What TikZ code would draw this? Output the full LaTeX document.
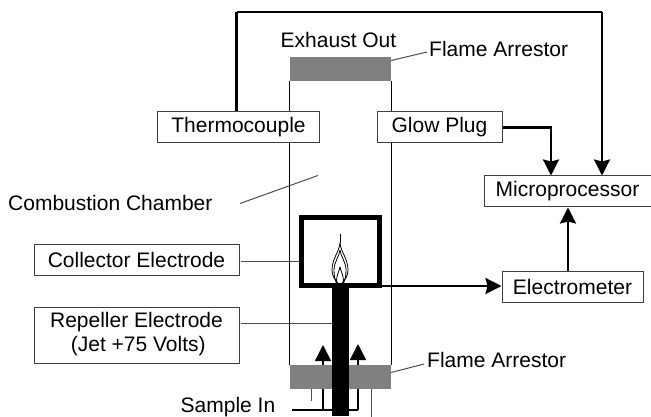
\documentclass[tikz,border=0pt]{standalone}
\usepackage{fontspec}
\setmainfont{Liberation Sans}
\usetikzlibrary{arrows.meta}

\begin{document}
\begin{tikzpicture}[x=1pt,y=-1pt]

    % Слои:
    \pgfdeclarelayer{background}
    \pgfsetlayers{background,main}

    % Стили:
    \tikzstyle{blok}=[draw=black!75, fill=white, line width=1pt, inner sep=0pt,
    text centered, font=\fontsize{21}{24}\selectfont]
    \tikzstyle{texto}=[inner sep=0pt, font=\fontsize{21}{24}\selectfont]
    \tikzstyle{arrestor}=[fill=black!50, inner sep=0pt, minimum width=101pt, minimum height=24pt]
    \tikzstyle{wall}=[draw, line width=1pt]
    \tikzstyle{leader}=[draw, line width=1pt, color=black!70]
    \tikzstyle{wire}=[draw, line width=2.5pt, -{Stealth[length=16pt,width=16pt,inset=2pt]}]
    \tikzstyle{feed}=[draw, line width=1.5pt]

    \newcommand{\blok}[4]{node (#1) [blok,minimum width=#3pt,minimum height=#4pt] {#2}}

    \useasboundingbox (0,0) rectangle (651,417);

    % Прямоугольники:
    \node (fatop) [arrestor] at (340.5,69) {};
    \node (fabot) [arrestor] at (340.5,377) {};
    \path (238.5,127.5) \blok{thermo}{Thermocouple}{162}{31};
    \path (439.5,127.5) \blok{glow}{Glow Plug}{125}{31};
    \path (567.5,191.5) \blok{micro}{Microprocessor}{167}{31};
    \path (572.5,286.5) \blok{electro}{Electrometer}{141}{31};
    \path (136.5,259.5) \blok{coll}{Collector Electrode}{205}{31};
    \path (136.5,335) \blok{rep}{\raisebox{-1pt}{\begin{tabular}{@{}c@{}}Repeller Electrode\\\,(Jet +75 Volts)\end{tabular}}}{205}{56};

    \node (square) [draw, line width=5pt, minimum width=78pt, minimum height=68pt, inner sep=0pt] at (340.5,251.5) {};
    \node (jet) [fill=black, inner sep=0pt, minimum width=17pt, minimum height=128pt] at (340.5,352) {};

    % Подписи:
    \node (exhaust) [texto] at (338.5,40) {Exhaust Out};
    \node (flametop) [texto, anchor=west] at (429,49) {Flame Arrestor};
    \node (flamebot) [texto, anchor=west] at (427,360) {Flame Arrestor};
    \node (chamber) [texto, anchor=west] at (8,203) {Combustion Chamber};
    \node (sample) [texto, anchor=west] at (180.5,407) {Sample In};

    % Задний фон:
    \begin{pgfonlayer}{background}
        \path [wall] (fatop.south west) -- (fabot.north west);
        \path [wall] (fatop.south east) -- (fabot.north east);
    \end{pgfonlayer}

    % Пламя:
    \coordinate (flame) at (340,283);
    \begin{scope}[shift={(flame)}, line width=0.8pt]
        \draw (0,-49) -- (0,-40);
        \foreach \s in {-1,1} {
            \draw (0,-40) .. controls (0.5*\s,-32) and (8*\s,-24) .. (8*\s,-13)
                .. controls (8*\s,-7) and (5*\s,-3) .. (2*\s,0);
            \draw (0,-33) .. controls (0.5*\s,-27) and (6*\s,-21) .. (6*\s,-13)
                .. controls (6*\s,-7) and (5*\s,-3) .. (3.5*\s,0);
            \draw (0,-16) .. controls (1*\s,-11) and (4*\s,-7) .. (3.5*\s,0);
        }
    \end{scope}

    % Выноски:
    \coordinate (c1) at (240,203.5);
    \coordinate (c2) at (318,175.5);
    \path [leader] (c1) -- (c2);
    \path [leader] (fatop.east |- 0,60.5) -- (427,52);
    \path [leader] (fabot.east |- 0,372.5) -- (424,364);
    \path [leader] (241,261) -- (square.west |- 0,261);
    \path [leader] (241,323) -- (jet.west |- 0,323);

    % Стрелки:
    \coordinate (top1) at (236.5,12);
    \coordinate (top2) at (602,12);
    \path [wire, -, line width=3.5pt] (thermo.north -| top1) -- (top1);
    \path [wire, -] (top1) -- (top2);
    \path [wire] (top2) -- (micro.north -| top2);
    \coordinate (g1) at (551,127.5);
    \path [wire] (glow.east) -- (g1) -- (micro.north -| g1);
    \path [wire] (electro.north -| 568,0) -- (micro.south -| 568,0);
    \path [wire] (square.east |- 0,286) -- (electro.west |- 0,286);

    % Образец:
    \coordinate (s0) at (292,410);
    \coordinate (s1) at (323,410);
    \coordinate (s2) at (358,410);
    \path [feed] (s0) -- (s2);
    \path [feed] (s1) -- (s1 |- fabot.south);
    \path [feed] (s2) -- (s2 |- fabot.south);
    \path [feed, -{Stealth[length=16pt,width=16pt,inset=0pt]}] (s1 |- fabot.north) -- (323,345);
    \path [feed, -{Stealth[length=16pt,width=16pt,inset=0pt]}] (s2 |- fabot.north) -- (358,344);
    \path [leader] (311,389) -- (311,401);
    \path [leader] (371,389) -- (371,417);

\end{tikzpicture}
\end{document}
